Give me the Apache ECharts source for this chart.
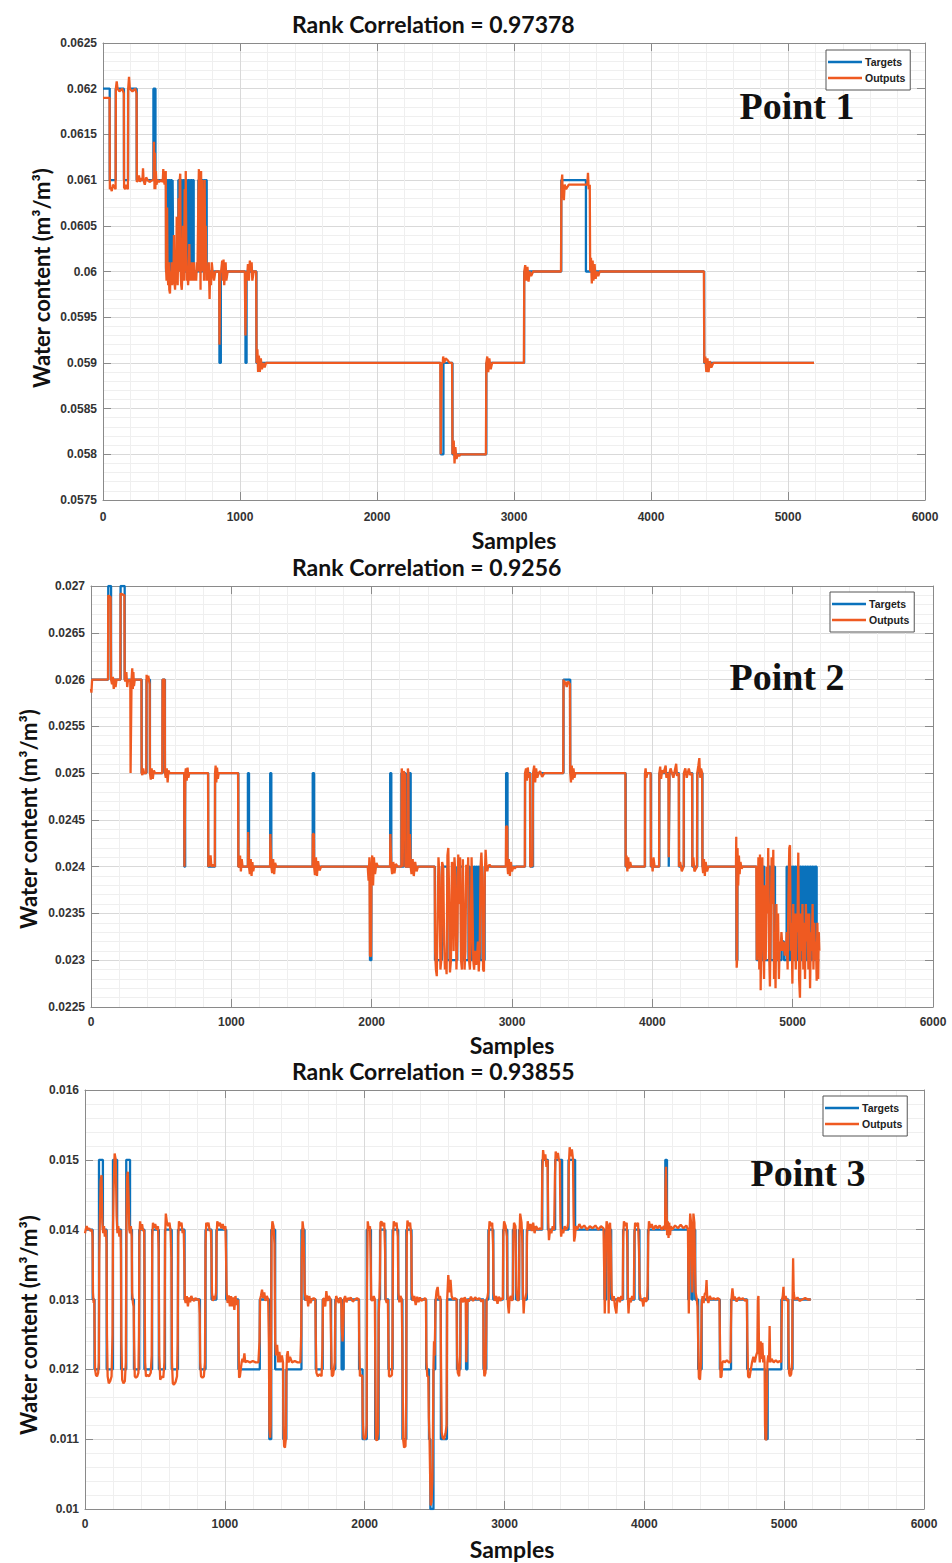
<!DOCTYPE html>
<html><head><meta charset="utf-8">
<script src="https://cdn.jsdelivr.net/npm/echarts@6/dist/echarts.min.js"></script>
<style>html,body{margin:0;padding:0;background:#fff}#c{width:952px;height:1563px}</style>
</head><body><div id="c"></div>
<script>
// ---------------- data ----------------
const seriesNames = ['Targets', 'Outputs'];
const titles = ['Rank Correlation = 0.97378', 'Rank Correlation = 0.9256', 'Rank Correlation = 0.93855'];
const pointLabels = ['Point 1', 'Point 2', 'Point 3'];
const xAxisName = 'Samples';
const yAxisName = 'Water content (m\u00B3/m\u00B3)';
const xLimits = [0, 6000];
const xStep = 1000;
const p1YLimits = [0.0575, 0.0625];
const p1YStep = 0.0005;
const p2YLimits = [0.0225, 0.027];
const p2YStep = 0.0005;
const p3YLimits = [0.010, 0.016];
const p3YStep = 0.001;

// Point 1 (targets are step levels: [start sample, level])
const p1Targets = [[0,0.062],[49,0.061],[93,0.062],[153,0.061],[183,0.062],[246,0.061],[368,0.062],[383,0.061],
[460,0.060],[470,0.061],[478,0.060],[483,0.061],[490,0.060],[496,0.061],[503,0.060],[508,0.061],[513,0.060],
[550,0.061],[556,0.060],[561,0.061],[567,0.060],[572,0.061],[578,0.060],[584,0.061],[590,0.060],[596,0.061],
[602,0.060],[608,0.061],[614,0.060],[620,0.061],[626,0.060],[632,0.061],[638,0.060],[644,0.061],[650,0.060],
[656,0.061],[662,0.060],[696,0.061],[703,0.060],[709,0.061],[716,0.060],[722,0.061],[729,0.060],[735,0.061],
[742,0.060],[748,0.061],[757,0.060],[850,0.059],[860,0.060],[1040,0.059],[1048,0.060],[1120,0.059],[2465,0.058],
[2485,0.059],[2551,0.058],[2798,0.059],[3074,0.060],[3345,0.061],[3525,0.060],[4388,0.059],[5190,0.059]];
const p1Outputs = [[0,0.0619],[48,0.0619],[50,0.0609],[56,0.06092],[64,0.06088],[72,0.06095],[92,0.0609],[94,0.0620],
[100,0.06208],[106,0.0620],[120,0.06197],[140,0.062],[152,0.06195],[154,0.06092],[162,0.0609],[170,0.06095],[182,0.0609],
[184,0.0620],[190,0.06213],[196,0.0620],[215,0.06197],[235,0.062],[245,0.06195],[247,0.06098],[255,0.061],[262,0.06105],
[270,0.06098],[280,0.06102],[288,0.0610],[292,0.06113],[296,0.0610],[305,0.06095],[315,0.06103],[325,0.0610],[340,0.06098],
[360,0.061],[370,0.061],[372,0.06142],[376,0.0609],[379,0.0613],[382,0.0609],[386,0.0611],[390,0.06095],[398,0.061],
[410,0.06098],[425,0.061],[436,0.06098],[440,0.06112],[444,0.0610],[450,0.06095],[456,0.0610],[458,0.0611],[460,0.06005],
[464,0.0599],[468,0.0607],[471,0.0600],[476,0.05985],[480,0.0601],[484,0.0598],[489,0.05976],[493,0.0600],[497,0.0599],
[501,0.0601],[505,0.05985],[510,0.0600],[514,0.0599],[518,0.0604],[521,0.0599],[526,0.0598],[530,0.0600],[534,0.0599],
[538,0.0606],[541,0.0600],[545,0.05985],[549,0.0603],[552,0.0608],[556,0.0600],[560,0.0610],[564,0.06107],[567,0.0600],
[571,0.05985],[575,0.0598],[580,0.0600],[584,0.0605],[588,0.0600],[592,0.0599],[596,0.0609],[600,0.0600],[604,0.0611],
[608,0.0602],[612,0.0599],[617,0.0600],[621,0.05985],[626,0.0600],[630,0.0603],[634,0.0599],[640,0.0600],[645,0.0599],
[650,0.0601],[655,0.0600],[660,0.0599],[664,0.0601],[668,0.0599],[674,0.0600],[680,0.0599],[686,0.0601],[690,0.0600],
[696,0.0608],[700,0.06112],[704,0.0600],[708,0.0606],[712,0.0598],[716,0.0611],[720,0.0605],[724,0.0610],[728,0.0600],
[733,0.0609],[737,0.0599],[742,0.0610],[746,0.0601],[750,0.0605],[755,0.0599],[760,0.0600],[766,0.0599],[772,0.0601],
[778,0.0597],[782,0.0600],[788,0.05985],[794,0.0601],[800,0.0600],[810,0.0599],[820,0.0600],[848,0.0600],[850,0.0592],
[853,0.0592],[855,0.0600],[862,0.0600],[870,0.06012],[875,0.0599],[880,0.06013],[885,0.05985],[890,0.0600],[895,0.0601],
[900,0.0599],[910,0.0600],[1035,0.0600],[1040,0.0593],[1043,0.0593],[1046,0.0600],[1050,0.0599],[1058,0.06008],[1065,0.0599],
[1072,0.06012],[1078,0.0600],[1085,0.0601],[1090,0.0599],[1100,0.0600],[1118,0.0600],[1121,0.0590],[1127,0.05915],
[1132,0.0589],[1138,0.05908],[1145,0.0589],[1152,0.05905],[1160,0.05893],[1170,0.0590],[1180,0.05895],[1190,0.0590],
[2462,0.0590],[2465,0.0580],[2470,0.0580],[2473,0.0590],[2480,0.0590],[2483,0.05907],[2490,0.0590],[2500,0.05905],
[2515,0.05903],[2530,0.0590],[2548,0.0590],[2551,0.0580],[2560,0.05815],[2566,0.0579],[2572,0.05808],[2580,0.05795],
[2590,0.0580],[2600,0.05798],[2610,0.0580],[2795,0.0580],[2798,0.0590],[2805,0.05907],[2812,0.0589],[2820,0.05905],
[2830,0.05893],[2840,0.0590],[3072,0.0590],[3075,0.0600],[3082,0.06007],[3090,0.0599],[3098,0.06005],[3106,0.05989],
[3115,0.0600],[3125,0.05995],[3140,0.0600],[3343,0.0600],[3346,0.06095],[3352,0.06106],[3356,0.0608],[3360,0.06095],
[3364,0.06078],[3370,0.06095],[3380,0.0609],[3400,0.06095],[3535,0.06095],[3540,0.06108],[3545,0.0609],[3553,0.06095],
[3556,0.0600],[3562,0.06015],[3568,0.05987],[3574,0.06012],[3580,0.0599],[3588,0.06008],[3596,0.05992],[3605,0.0600],
[3615,0.05995],[3625,0.0600],[4386,0.0600],[4389,0.0590],[4396,0.05907],[4404,0.0589],[4412,0.05905],[4420,0.0589],
[4430,0.05902],[4440,0.05895],[4455,0.0590],[5190,0.0590]];

// Point 2
const p2Targets = [[0,0.026],[123,0.027],[143,0.026],[211,0.027],[240,0.026],[361,0.025],[396,0.026],[420,0.025],
[510,0.026],[527,0.025],[665,0.024],[671,0.025],[835,0.024],[884,0.025],[1050,0.024],[1118,0.025],[1126,0.024],
[1277,0.025],[1285,0.024],[1580,0.025],[1590,0.024],[1988,0.023],[1998,0.024],[2132,0.025],[2140,0.024],[2212,0.025],
[2220,0.024],[2228,0.025],[2240,0.024],[2256,0.025],[2264,0.024],[2270,0.025],[2278,0.024],[2451,0.023],[2500,0.024],
[2540,0.023],[2610,0.024],[2650,0.023],[2690,0.024],[2700,0.023],[2713,0.024],[2720,0.023],[2727,0.024],[2734,0.023],
[2741,0.024],[2748,0.023],[2755,0.024],[2762,0.023],[2769,0.024],[2776,0.023],[2805,0.024],[2958,0.025],[2968,0.024],
[3093,0.025],[3130,0.024],[3150,0.025],[3367,0.026],[3415,0.025],[3810,0.024],[3948,0.025],[3990,0.024],[4050,0.025],
[4117,0.024],[4122,0.025],[4190,0.024],[4225,0.025],[4285,0.024],[4320,0.025],[4357,0.024],[4599,0.023],[4606,0.024],
[4744,0.023],[4790,0.024],[4798,0.023],[4832,0.024],[4842,0.023],[4866,0.024],[4874,0.023],[4920,0.0232],[4938,0.023],
[4957,0.024],[4963,0.023],[4969,0.024],[4975,0.023],[4981,0.024],[4987,0.023],[4993,0.024],[4999,0.023],[5005,0.024],
[5011,0.023],[5017,0.024],[5023,0.023],[5029,0.024],[5035,0.023],[5041,0.024],[5047,0.023],[5053,0.024],[5059,0.023],
[5065,0.024],[5071,0.023],[5077,0.024],[5083,0.023],[5089,0.024],[5095,0.023],[5101,0.024],[5107,0.023],[5113,0.024],
[5119,0.023],[5125,0.024],[5131,0.023],[5137,0.024],[5143,0.023],[5149,0.024],[5155,0.023],[5161,0.024],[5171,0.023],
[5190,0.023]];
const p2Outputs = [[0,0.0259],[3,0.02586],[8,0.026],[20,0.026],[121,0.026],[123,0.0269],[140,0.02688],[143,0.026],
[150,0.02595],[156,0.02603],[162,0.0259],[168,0.02601],[175,0.02592],[182,0.026],[209,0.026],[211,0.02692],[238,0.0269],
[240,0.026],[246,0.02598],[252,0.02608],[258,0.02592],[264,0.0260],[270,0.02598],[280,0.0260],[282,0.0250],[286,0.0250],
[289,0.0260],[294,0.02612],[298,0.0259],[302,0.02608],[306,0.02593],[312,0.0260],[359,0.0260],[361,0.0250],[366,0.02498],
[372,0.02505],[378,0.0250],[394,0.0250],[396,0.02605],[402,0.02598],[408,0.02604],[418,0.02595],[420,0.0250],[426,0.02493],
[432,0.02505],[440,0.02494],[448,0.02503],[456,0.0250],[508,0.0250],[510,0.0260],[525,0.0260],[527,0.0250],[533,0.02495],
[540,0.02505],[546,0.0249],[552,0.02503],[560,0.0250],[664,0.0250],[666,0.0240],[670,0.0240],[672,0.0250],[676,0.02505],
[682,0.02492],[688,0.02506],[694,0.02495],[700,0.0250],[834,0.0250],[836,0.0240],[845,0.02403],[852,0.02412],[858,0.0240],
[870,0.02402],[882,0.0240],[884,0.0250],[888,0.02508],[893,0.0249],[898,0.02506],[904,0.02494],[910,0.0250],[1048,0.0250],
[1050,0.0240],[1058,0.0240],[1062,0.02412],[1068,0.02395],[1074,0.02408],[1080,0.0240],[1118,0.0240],[1120,0.02437],
[1124,0.02437],[1126,0.0240],[1132,0.02392],[1138,0.02408],[1144,0.0239],[1150,0.02405],[1156,0.02395],[1162,0.0240],
[1276,0.0240],[1278,0.02435],[1283,0.02435],[1285,0.0240],[1291,0.02393],[1298,0.02408],[1305,0.02392],[1312,0.02404],
[1320,0.0240],[1579,0.0240],[1581,0.02435],[1588,0.02435],[1590,0.0240],[1596,0.02391],[1603,0.0241],[1610,0.0239],
[1618,0.02406],[1628,0.02396],[1640,0.0240],[1972,0.0240],[1978,0.02385],[1984,0.0241],[1988,0.02305],[1995,0.02304],
[1999,0.0240],[2004,0.02412],[2010,0.0238],[2016,0.0241],[2024,0.02392],[2034,0.02404],[2045,0.0240],[2131,0.0240],
[2133,0.02435],[2138,0.02435],[2140,0.0240],[2146,0.02392],[2154,0.02405],[2162,0.02393],[2172,0.02403],[2185,0.0240],
[2212,0.0240],[2214,0.02505],[2219,0.025],[2221,0.0240],[2226,0.024],[2228,0.02502],[2238,0.02498],[2240,0.0240],
[2256,0.0240],[2258,0.02505],[2262,0.025],[2264,0.0240],[2270,0.0240],[2272,0.02435],[2276,0.02435],[2278,0.0240],
[2284,0.02392],[2292,0.02408],[2300,0.0239],[2310,0.02405],[2320,0.02395],[2330,0.0240],[2449,0.0240],[2452,0.0231],
[2458,0.0229],[2464,0.02283],[2470,0.0235],[2476,0.0241],[2483,0.0239],[2490,0.0229],[2496,0.0230],[2502,0.02405],
[2510,0.0240],[2516,0.0232],[2522,0.0229],[2528,0.0230],[2534,0.02285],[2540,0.02412],[2546,0.0242],[2552,0.0237],
[2558,0.02287],[2565,0.0230],[2572,0.02405],[2578,0.0240],[2584,0.0231],[2590,0.0241],[2597,0.0239],[2604,0.0229],
[2611,0.0233],[2617,0.02413],[2624,0.0236],[2630,0.0241],[2637,0.0230],[2643,0.0229],[2650,0.02408],[2656,0.0235],
[2662,0.0229],[2668,0.0231],[2674,0.02402],[2681,0.0238],[2688,0.0241],[2694,0.0230],[2700,0.0229],[2706,0.0232],
[2712,0.0241],[2718,0.0236],[2724,0.0230],[2730,0.0229],[2737,0.0231],[2744,0.02295],[2750,0.0230],[2757,0.0232],
[2763,0.02288],[2770,0.0231],[2776,0.0240],[2782,0.02415],[2788,0.0239],[2794,0.0229],[2800,0.02288],[2806,0.0239],
[2812,0.02418],[2818,0.0240],[2824,0.02395],[2830,0.0240],[2840,0.02402],[2850,0.0240],[2956,0.0240],[2958,0.02443],
[2966,0.02443],[2968,0.0240],[2972,0.02392],[2978,0.02408],[2985,0.0239],[2992,0.02405],[3000,0.02395],[3010,0.0240],
[3020,0.02398],[3030,0.0240],[3091,0.0240],[3093,0.0250],[3100,0.02505],[3106,0.02492],[3112,0.02506],[3120,0.02495],
[3128,0.0250],[3130,0.0240],[3136,0.0240],[3140,0.0241],[3146,0.0240],[3150,0.0250],[3158,0.02508],[3165,0.0249],
[3172,0.02505],[3180,0.02495],[3190,0.0250],[3200,0.02502],[3215,0.02496],[3230,0.0250],[3365,0.0250],[3367,0.0260],
[3372,0.02595],[3380,0.02598],[3390,0.02592],[3400,0.02598],[3413,0.02595],[3415,0.0250],[3420,0.0249],[3426,0.02508],
[3432,0.02493],[3438,0.02505],[3445,0.02495],[3452,0.0250],[3808,0.0250],[3810,0.0240],[3816,0.02412],[3822,0.02395],
[3828,0.0241],[3834,0.02398],[3842,0.02405],[3850,0.0240],[3946,0.0240],[3948,0.0250],[3952,0.02505],[3958,0.02495],
[3964,0.0250],[3988,0.0250],[3990,0.0240],[3996,0.02408],[4002,0.02395],[4008,0.0241],[4016,0.0240],[4048,0.0240],
[4050,0.0250],[4056,0.02507],[4062,0.02494],[4070,0.02503],[4080,0.0250],[4095,0.02508],[4100,0.02495],[4115,0.0250],
[4117,0.0241],[4120,0.0241],[4122,0.0250],[4130,0.02505],[4150,0.02495],[4170,0.0251],[4176,0.02497],[4188,0.0250],
[4190,0.0240],[4198,0.02405],[4210,0.02395],[4223,0.0240],[4225,0.0250],[4235,0.02505],[4245,0.02495],[4260,0.02505],
[4270,0.02498],[4283,0.0250],[4285,0.0240],[4292,0.0241],[4300,0.02395],[4318,0.0240],[4320,0.0250],[4328,0.02508],
[4335,0.02516],[4340,0.02495],[4347,0.02505],[4355,0.0250],[4357,0.0240],[4362,0.02393],[4368,0.02408],[4374,0.0239],
[4380,0.02405],[4390,0.02395],[4400,0.0240],[4596,0.0240],[4598,0.02432],[4601,0.02292],[4604,0.0230],[4607,0.0242],
[4612,0.0238],[4617,0.02412],[4622,0.02392],[4628,0.02405],[4636,0.02398],[4645,0.0240],[4741,0.0240],[4744,0.0230],
[4750,0.0235],[4756,0.0241],[4762,0.0229],[4767,0.02413],[4772,0.02268],[4778,0.0236],[4784,0.0241],[4790,0.0232],
[4796,0.0228],[4802,0.0238],[4808,0.0230],[4815,0.0240],[4820,0.0235],[4826,0.0242],[4832,0.0231],[4838,0.02272],
[4844,0.0234],[4850,0.0241],[4856,0.0236],[4862,0.02418],[4867,0.0228],[4872,0.0233],[4878,0.0227],[4884,0.0236],
[4890,0.0230],[4896,0.0235],[4902,0.0228],[4908,0.0232],[4914,0.0231],[4920,0.0233],[4928,0.0231],[4936,0.0232],
[4944,0.02305],[4952,0.0231],[4958,0.0233],[4964,0.0229],[4970,0.0237],[4976,0.0242],[4981,0.02423],[4986,0.0231],
[4992,0.0234],[4998,0.02275],[5004,0.0236],[5010,0.0230],[5016,0.0235],[5022,0.0229],[5028,0.0235],[5034,0.0233],
[5040,0.02415],[5046,0.0228],[5052,0.0226],[5058,0.0235],[5064,0.0231],[5070,0.0236],[5076,0.0229],[5082,0.0234],
[5088,0.0228],[5094,0.0236],[5100,0.0232],[5106,0.0235],[5112,0.0229],[5118,0.0235],[5124,0.0227],[5130,0.0233],
[5136,0.0231],[5142,0.0236],[5148,0.0229],[5154,0.0234],[5160,0.0230],[5166,0.0232],[5171,0.02278],[5176,0.0234],
[5182,0.0228],[5186,0.0233],[5190,0.0231]];

// Point 3
const p3Targets = [[0,0.014],[55,0.013],[68,0.012],[100,0.015],[128,0.014],[155,0.012],[200,0.015],[230,0.014],
[258,0.012],[295,0.015],[322,0.014],[336,0.013],[350,0.012],[388,0.014],[425,0.012],[480,0.014],[528,0.012],[572,0.014],
[620,0.012],[665,0.014],[712,0.013],[822,0.012],[862,0.014],[905,0.013],[940,0.014],[1010,0.013],[1097,0.012],[1250,0.013],
[1318,0.011],[1332,0.014],[1360,0.012],[1418,0.011],[1440,0.012],[1548,0.014],[1570,0.013],[1650,0.012],[1700,0.013],
[1760,0.012],[1790,0.013],[1835,0.012],[1850,0.013],[1960,0.012],[1985,0.011],[2015,0.014],[2045,0.013],[2075,0.011],
[2100,0.013],[2110,0.014],[2148,0.013],[2170,0.012],[2200,0.014],[2240,0.013],[2270,0.011],[2298,0.014],[2335,0.013],
[2440,0.012],[2460,0.011],[2470,0.010],[2492,0.012],[2505,0.013],[2545,0.011],[2588,0.013],[2660,0.012],[2685,0.013],
[2725,0.012],[2735,0.013],[2850,0.012],[2870,0.013],[2885,0.014],[2920,0.013],[2990,0.014],[3020,0.013],[3060,0.014],
[3082,0.013],[3105,0.014],[3130,0.013],[3160,0.014],[3270,0.015],[3310,0.014],[3362,0.015],[3412,0.014],[3458,0.015],
[3505,0.014],[3715,0.013],[3728,0.014],[3763,0.013],[3848,0.014],[3880,0.013],[3930,0.014],[3965,0.013],[4026,0.014],
[4150,0.015],[4162,0.014],[4314,0.013],[4322,0.014],[4340,0.013],[4346,0.014],[4364,0.013],[4385,0.012],[4410,0.013],
[4540,0.012],[4620,0.013],[4735,0.012],[4865,0.011],[4882,0.012],[4980,0.013],[5030,0.012],[5060,0.013],[5190,0.013]];
const p3Outputs = [[0,0.01395],[5,0.0140],[12,0.01405],[20,0.0140],[30,0.01402],[40,0.01398],[50,0.0140],[54,0.0139],
[57,0.0131],[62,0.01295],[66,0.0130],[69,0.0125],[72,0.0120],[78,0.01192],[86,0.0119],[94,0.01195],[99,0.0121],[102,0.0136],
[106,0.0141],[112,0.0147],[118,0.01478],[124,0.0141],[130,0.01395],[136,0.01405],[142,0.0139],[150,0.0140],[154,0.0138],
[157,0.0125],[162,0.0119],[170,0.0118],[180,0.01183],[190,0.0119],[197,0.0125],[200,0.0140],[205,0.0146],[212,0.01509],
[220,0.0150],[226,0.0142],[232,0.01395],[238,0.01405],[246,0.0139],[254,0.0140],[257,0.0137],[260,0.0124],[266,0.01185],
[275,0.0118],[285,0.01183],[292,0.0121],[296,0.0140],[301,0.01475],[306,0.01483],[311,0.0145],[317,0.0140],[322,0.01395],
[328,0.01405],[334,0.0139],[337,0.0131],[343,0.01295],[348,0.0129],[351,0.0124],[356,0.0119],[364,0.01188],[374,0.0119],
[382,0.01195],[386,0.0125],[389,0.0139],[394,0.01412],[400,0.0140],[408,0.01408],[416,0.01398],[423,0.0140],[426,0.0133],
[430,0.0121],[436,0.0119],[446,0.01192],[458,0.0119],[470,0.01195],[477,0.0122],[481,0.0139],[486,0.0141],[494,0.01403],
[502,0.01408],[512,0.0140],[522,0.01405],[527,0.0137],[531,0.0122],[538,0.01185],[548,0.0119],[560,0.01188],[568,0.0121],
[573,0.0139],[578,0.01423],[586,0.0141],[595,0.01405],[604,0.0141],[612,0.01398],[618,0.0136],[622,0.0121],[628,0.0118],
[636,0.01178],[648,0.01182],[658,0.0119],[663,0.0124],[667,0.0139],[672,0.01412],[680,0.01405],[690,0.0141],[698,0.01395],
[706,0.0140],[710,0.0136],[714,0.0130],[720,0.01295],[728,0.01305],[736,0.0129],[744,0.01303],[752,0.01296],[760,0.01305],
[770,0.0130],[780,0.01298],[790,0.01302],[800,0.0130],[815,0.0130],[820,0.0128],[824,0.0121],[830,0.0119],[840,0.01188],
[850,0.0119],[858,0.0121],[862,0.0138],[867,0.0141],[875,0.01405],[883,0.0141],[892,0.01398],[900,0.0140],[904,0.0137],
[908,0.0131],[914,0.01298],[922,0.01305],[930,0.0130],[937,0.0131],[941,0.0139],[946,0.01412],[955,0.01405],[965,0.0141],
[975,0.01402],[985,0.01408],[995,0.0140],[1004,0.01405],[1008,0.0137],[1013,0.0131],[1020,0.01295],[1028,0.01306],
[1036,0.0129],[1044,0.01305],[1052,0.0129],[1060,0.01303],[1068,0.01285],[1076,0.01305],[1084,0.01292],[1094,0.0130],
[1097,0.0125],[1102,0.01188],[1108,0.0119],[1114,0.0120],[1120,0.0121],[1126,0.01215],[1132,0.0121],[1140,0.01223],
[1146,0.0121],[1160,0.01212],[1180,0.0121],[1200,0.01212],[1220,0.0121],[1240,0.0121],[1248,0.0124],[1252,0.0130],
[1258,0.01305],[1266,0.01314],[1274,0.01302],[1282,0.0131],[1290,0.01298],[1300,0.01305],[1310,0.0130],[1315,0.0124],
[1319,0.01115],[1324,0.01102],[1328,0.0112],[1331,0.0125],[1334,0.0139],[1340,0.01412],[1348,0.01405],[1355,0.0138],
[1360,0.0124],[1366,0.0122],[1374,0.01235],[1382,0.0121],[1390,0.01225],[1398,0.0121],[1408,0.0122],[1416,0.0121],
[1419,0.0112],[1424,0.0109],[1430,0.01088],[1436,0.0110],[1440,0.0119],[1444,0.0122],[1450,0.01226],[1456,0.0121],
[1466,0.01218],[1480,0.0121],[1500,0.01212],[1520,0.0121],[1540,0.0121],[1546,0.0125],[1550,0.0136],[1556,0.01412],
[1562,0.0140],[1568,0.0135],[1572,0.0131],[1580,0.01298],[1588,0.01306],[1596,0.0129],[1604,0.01305],[1612,0.01295],
[1622,0.0130],[1635,0.01302],[1647,0.0130],[1650,0.0125],[1655,0.01195],[1665,0.0119],[1678,0.01193],[1692,0.0119],
[1698,0.0123],[1702,0.0130],[1710,0.01302],[1718,0.0129],[1726,0.01312],[1734,0.01298],[1744,0.01305],[1755,0.0130],
[1760,0.0124],[1765,0.0119],[1775,0.01192],[1786,0.0121],[1790,0.0129],[1796,0.01305],[1805,0.0130],[1815,0.01295],
[1825,0.01303],[1832,0.0130],[1836,0.0126],[1842,0.0124],[1848,0.0127],[1852,0.0130],[1860,0.01305],[1870,0.01296],
[1880,0.01302],[1890,0.0130],[1900,0.01303],[1915,0.01297],[1930,0.0130],[1945,0.01302],[1958,0.0130],[1961,0.0124],
[1966,0.0119],[1975,0.01192],[1983,0.0119],[1986,0.0113],[1992,0.01102],[2000,0.0110],[2008,0.01103],[2014,0.0112],
[2017,0.0132],[2022,0.01412],[2030,0.0140],[2038,0.01405],[2043,0.0136],[2047,0.0130],[2055,0.01298],[2065,0.01305],
[2073,0.0130],[2076,0.0121],[2080,0.0110],[2088,0.01098],[2096,0.0111],[2100,0.0128],[2105,0.0130],[2109,0.0133],
[2113,0.0141],[2120,0.01412],[2130,0.01405],[2140,0.0141],[2146,0.0137],[2150,0.0130],[2158,0.01295],[2166,0.0130],
[2169,0.0125],[2174,0.0119],[2184,0.0119],[2195,0.01192],[2199,0.0124],[2203,0.0139],[2208,0.01412],[2218,0.01405],
[2228,0.0141],[2237,0.0139],[2241,0.0131],[2248,0.01296],[2256,0.01305],[2265,0.0130],[2270,0.0123],[2275,0.0110],
[2282,0.01088],[2292,0.0109],[2297,0.0116],[2301,0.0139],[2306,0.01413],[2315,0.01405],[2325,0.0141],[2333,0.0139],
[2337,0.0131],[2345,0.01298],[2355,0.01305],[2365,0.01292],[2375,0.01304],[2385,0.01296],[2395,0.01303],[2405,0.01298],
[2420,0.0130],[2432,0.01302],[2438,0.0130],[2442,0.0121],[2448,0.0119],[2455,0.0119],[2459,0.0113],[2464,0.0110],
[2468,0.0105],[2472,0.01005],[2478,0.0101],[2484,0.0104],[2488,0.0110],[2492,0.01205],[2496,0.0124],[2500,0.0122],
[2504,0.0126],[2508,0.0130],[2514,0.01312],[2522,0.01318],[2530,0.0130],[2538,0.01305],[2543,0.0130],[2546,0.0121],
[2551,0.0111],[2558,0.01102],[2568,0.0110],[2578,0.01108],[2586,0.0112],[2590,0.0130],[2598,0.01335],[2606,0.0131],
[2614,0.01328],[2622,0.01305],[2632,0.0130],[2645,0.01302],[2657,0.0130],[2661,0.0122],[2666,0.01195],[2676,0.0119],
[2683,0.0122],[2687,0.0130],[2695,0.01302],[2705,0.01296],[2715,0.01303],[2723,0.0130],[2727,0.0121],[2731,0.0121],
[2735,0.0130],[2745,0.01297],[2760,0.01304],[2775,0.01298],[2790,0.01303],[2805,0.0130],[2820,0.01302],[2835,0.01297],
[2848,0.0130],[2851,0.0121],[2856,0.0119],[2864,0.01195],[2869,0.0125],[2872,0.0130],[2878,0.01303],[2883,0.0131],
[2887,0.0139],[2893,0.01412],[2903,0.01405],[2912,0.0141],[2918,0.0138],[2922,0.0131],[2930,0.01298],[2940,0.01305],
[2950,0.01294],[2960,0.01304],[2970,0.01298],[2980,0.01302],[2988,0.0130],[2991,0.0139],[2997,0.01412],[3008,0.01405],
[3017,0.0139],[3021,0.0131],[3026,0.0129],[3031,0.0128],[3036,0.0130],[3045,0.01305],[3055,0.01298],[3060,0.0131],
[3063,0.0139],[3068,0.0141],[3078,0.01405],[3082,0.0136],[3086,0.0131],[3092,0.0130],[3100,0.01298],[3104,0.0132],
[3107,0.0139],[3112,0.01423],[3122,0.0141],[3128,0.0138],[3132,0.0131],[3137,0.0128],[3142,0.0130],[3150,0.01302],
[3157,0.0131],[3161,0.0139],[3166,0.01412],[3175,0.0140],[3185,0.01408],[3195,0.01398],[3205,0.0141],[3215,0.01395],
[3225,0.01405],[3240,0.0140],[3255,0.01402],[3266,0.0140],[3270,0.0148],[3276,0.01514],[3284,0.0150],[3292,0.01508],
[3300,0.0149],[3308,0.0150],[3313,0.0141],[3318,0.01385],[3326,0.0140],[3335,0.01395],[3345,0.01405],[3355,0.0140],
[3361,0.0148],[3366,0.01512],[3374,0.01502],[3382,0.0151],[3390,0.01498],[3396,0.0150],[3400,0.0141],[3405,0.0139],
[3412,0.0140],[3420,0.01395],[3430,0.01405],[3440,0.0140],[3450,0.01403],[3456,0.0141],[3460,0.0149],[3466,0.01518],
[3474,0.01505],[3482,0.01515],[3490,0.0150],[3494,0.0142],[3498,0.01383],[3504,0.0139],[3510,0.01405],[3520,0.0140],
[3535,0.01408],[3550,0.01402],[3570,0.01406],[3590,0.0140],[3610,0.01405],[3630,0.01402],[3650,0.01406],[3670,0.0140],
[3690,0.01405],[3708,0.01402],[3713,0.0134],[3717,0.0128],[3721,0.0132],[3726,0.0139],[3730,0.01412],[3740,0.01405],
[3745,0.0128],[3749,0.0139],[3755,0.0141],[3761,0.0137],[3766,0.0131],[3774,0.01298],[3782,0.01305],[3790,0.0129],
[3800,0.0128],[3806,0.0130],[3815,0.01303],[3825,0.01296],[3835,0.01305],[3845,0.0130],[3849,0.0139],[3854,0.01412],
[3864,0.01405],[3874,0.0141],[3879,0.0137],[3883,0.0130],[3887,0.0128],[3893,0.01302],[3903,0.01296],[3913,0.01305],
[3925,0.0130],[3929,0.0139],[3934,0.0141],[3944,0.01405],[3955,0.0141],[3962,0.0137],[3967,0.0131],[3975,0.01298],
[3985,0.0130],[3993,0.0129],[4001,0.01303],[4012,0.01297],[4020,0.0130],[4024,0.0132],[4028,0.0139],[4033,0.01412],
[4043,0.01403],[4053,0.01408],[4065,0.0140],[4080,0.01406],[4095,0.01402],[4110,0.01406],[4125,0.0140],[4140,0.01405],
[4148,0.0140],[4151,0.0146],[4155,0.0149],[4159,0.0143],[4163,0.01392],[4168,0.01412],[4173,0.01388],[4178,0.0141],
[4184,0.01392],[4190,0.01405],[4200,0.0140],[4220,0.01406],[4240,0.01402],[4260,0.01407],[4280,0.01402],[4300,0.01406],
[4312,0.0140],[4315,0.0133],[4318,0.0128],[4321,0.0133],[4324,0.0140],[4328,0.01423],[4334,0.0141],[4339,0.0136],
[4343,0.0131],[4347,0.0137],[4351,0.01423],[4358,0.0141],[4363,0.0134],[4367,0.0131],[4374,0.01302],[4380,0.0129],
[4385,0.0124],[4390,0.01188],[4398,0.01185],[4405,0.0121],[4410,0.0129],[4416,0.01305],[4424,0.01295],[4432,0.01308],
[4440,0.0131],[4445,0.01328],[4450,0.0130],[4458,0.01295],[4468,0.01305],[4480,0.0130],[4495,0.01302],[4510,0.0130],
[4525,0.01302],[4537,0.0130],[4541,0.0124],[4545,0.01188],[4552,0.0119],[4558,0.0121],[4566,0.01212],[4575,0.0121],
[4590,0.01213],[4605,0.0121],[4616,0.0121],[4619,0.0126],[4623,0.0130],[4630,0.01316],[4638,0.0130],[4646,0.01304],
[4660,0.01297],[4675,0.01303],[4690,0.0130],[4705,0.01302],[4720,0.01298],[4733,0.0130],[4737,0.0124],[4742,0.0119],
[4752,0.01188],[4762,0.0120],[4770,0.0121],[4780,0.01218],[4790,0.0121],[4800,0.0122],[4808,0.01225],[4812,0.0130],
[4816,0.01305],[4820,0.0123],[4826,0.0121],[4832,0.0124],[4838,0.01215],[4844,0.01238],[4850,0.0121],[4856,0.0122],
[4860,0.0121],[4863,0.0112],[4867,0.01099],[4872,0.0110],[4876,0.0116],[4880,0.0121],[4886,0.0122],[4892,0.0121],
[4896,0.01262],[4900,0.0121],[4910,0.01215],[4925,0.0121],[4940,0.01213],[4955,0.0121],[4968,0.01212],[4978,0.0121],
[4981,0.0126],[4985,0.0130],[4990,0.01305],[4995,0.01318],[5000,0.0130],[5010,0.01305],[5020,0.01298],[5028,0.0130],
[5031,0.0124],[5035,0.01195],[5042,0.0119],[5050,0.01193],[5057,0.0121],[5060,0.0130],[5064,0.01359],[5068,0.0131],
[5074,0.01302],[5082,0.0130],[5095,0.01303],[5110,0.01298],[5130,0.0130],[5150,0.01302],[5170,0.0130],[5190,0.0130]];

// ---------------- chart ----------------
const targetsData = [p1Targets, p2Targets, p3Targets];
const outputsData = [p1Outputs, p2Outputs, p3Outputs];
const yLimits = [p1YLimits, p2YLimits, p3YLimits];
const ySteps = [p1YStep, p2YStep, p3YStep];

const grids = [
  {left: 103, top: 43, width: 822, height: 457},
  {left: 91, top: 586, width: 842, height: 421},
  {left: 85, top: 1090, width: 839, height: 419}
];
const xLabelMargins = [11, 9, 9];
const legendPos = [[826, 50], [830, 592], [823, 1096]];
const labelPos = {
  title: [[292, 24], [292, 567], [292, 1071]],
  xname: [[514, 540], [512, 1045], [512, 1549]],
  yname: [[41, 278], [28, 819], [28, 1325]],
  point: [[797, 106], [787, 677], [808, 1173]]
};

const BLUE = '#0A72BC';
const ORANGE = '#EF5A21';
const AXIS = '#8a8a8a';
const tickFont = {fontSize: 12, fontWeight: 'bold', color: '#333', fontFamily: 'Liberation Sans, Arial, sans-serif'};
const fmt = v => String(+(+v).toFixed(5));

const option = {
  animation: false,
  backgroundColor: '#fff',
  grid: grids.map(g => Object.assign({outerBoundsMode: 'none', containLabel: false}, g)),
  xAxis: [], yAxis: [], series: [], legend: [], graphic: []
};

for (let i = 0; i < 3; i++) {
  const common = {gridIndex: i, type: 'value', min: xLimits[0], max: xLimits[1], interval: xStep};
  option.xAxis.push(Object.assign({}, common, {
    position: 'bottom',
    axisLine: {show: true, onZero: false, lineStyle: {color: AXIS, width: 1}},
    axisTick: {show: true, inside: true, length: 8, lineStyle: {color: AXIS}},
    axisLabel: Object.assign({margin: xLabelMargins[i], formatter: fmt}, tickFont),
    splitLine: {show: true, lineStyle: {color: '#d9d9d9', width: 1}},
    minorTick: {show: false, splitNumber: 5},
    minorSplitLine: {show: true, lineStyle: {color: '#efefef', width: 1}}
  }));
  option.xAxis.push(Object.assign({}, common, {
    position: 'top',
    axisLine: {show: true, onZero: false, lineStyle: {color: AXIS, width: 1}},
    axisTick: {show: true, inside: true, length: 8, lineStyle: {color: AXIS}},
    axisLabel: {show: false}, splitLine: {show: false}
  }));
  const yc = {gridIndex: i, type: 'value', min: yLimits[i][0], max: yLimits[i][1], interval: ySteps[i]};
  option.yAxis.push(Object.assign({}, yc, {
    position: 'left',
    axisLine: {show: true, onZero: false, lineStyle: {color: AXIS, width: 1}},
    axisTick: {show: true, inside: true, length: 8, lineStyle: {color: AXIS}},
    axisLabel: Object.assign({margin: 6, formatter: fmt}, tickFont),
    splitLine: {show: true, lineStyle: {color: '#d9d9d9', width: 1}},
    minorTick: {show: false, splitNumber: 5},
    minorSplitLine: {show: true, lineStyle: {color: '#efefef', width: 1}}
  }));
  option.yAxis.push(Object.assign({}, yc, {
    position: 'right',
    axisLine: {show: true, onZero: false, lineStyle: {color: AXIS, width: 1}},
    axisTick: {show: true, inside: true, length: 8, lineStyle: {color: AXIS}},
    axisLabel: {show: false}, splitLine: {show: false}
  }));
  option.series.push({
    type: 'line', name: seriesNames[0], xAxisIndex: 2 * i, yAxisIndex: 2 * i,
    data: targetsData[i], step: 'end', showSymbol: false, symbol: 'none', silent: true, z: 2,
    lineStyle: {color: BLUE, width: 2.3}, itemStyle: {color: BLUE}
  });
  option.series.push({
    type: 'line', name: seriesNames[1], xAxisIndex: 2 * i, yAxisIndex: 2 * i,
    data: outputsData[i], showSymbol: false, symbol: 'none', silent: true, z: 3,
    lineStyle: {color: ORANGE, width: 2.3}, itemStyle: {color: ORANGE}
  });
  option.legend.push({
    left: legendPos[i][0], top: legendPos[i][1], orient: 'vertical', data: seriesNames,
    icon: 'rect', itemWidth: 34, itemHeight: 2.5, itemGap: 4, padding: [6, 5, 6, 2],
    borderColor: '#555', borderWidth: 1, backgroundColor: '#fff', selectedMode: false, z: 10,
    textStyle: {fontSize: 10.5, fontWeight: 'bold', color: '#222', fontFamily: 'Liberation Sans, Arial, sans-serif', lineHeight: 12, padding: [0, 0, 0, -2]}
  });
  const lab = (txt, pos, font, extra) => Object.assign({
    type: 'text', x: pos[0], y: pos[1], z: 20, silent: true,
    style: {text: txt, font: font, fill: '#111', textAlign: 'center', textVerticalAlign: 'middle', verticalAlign: 'middle'}
  }, extra || {});
  const t = lab(titles[i], labelPos.title[i], 'bold 23px Lato, "Open Sans", sans-serif');
  t.style.textAlign = 'left';
  option.graphic.push(t);
  option.graphic.push(lab(xAxisName, labelPos.xname[i], 'bold 23px Lato, "Open Sans", sans-serif'));
  option.graphic.push(lab(yAxisName, labelPos.yname[i], 'bold 22px Lato, "Open Sans", sans-serif', {rotation: Math.PI / 2}));
  option.graphic.push(lab(pointLabels[i], labelPos.point[i], 'bold 38px "Liberation Serif", "DejaVu Serif", serif'));
}

const chart = echarts.init(document.getElementById('c'), null, {renderer: 'svg', width: 952, height: 1563});
chart.setOption(option);
</script>
</body></html>
